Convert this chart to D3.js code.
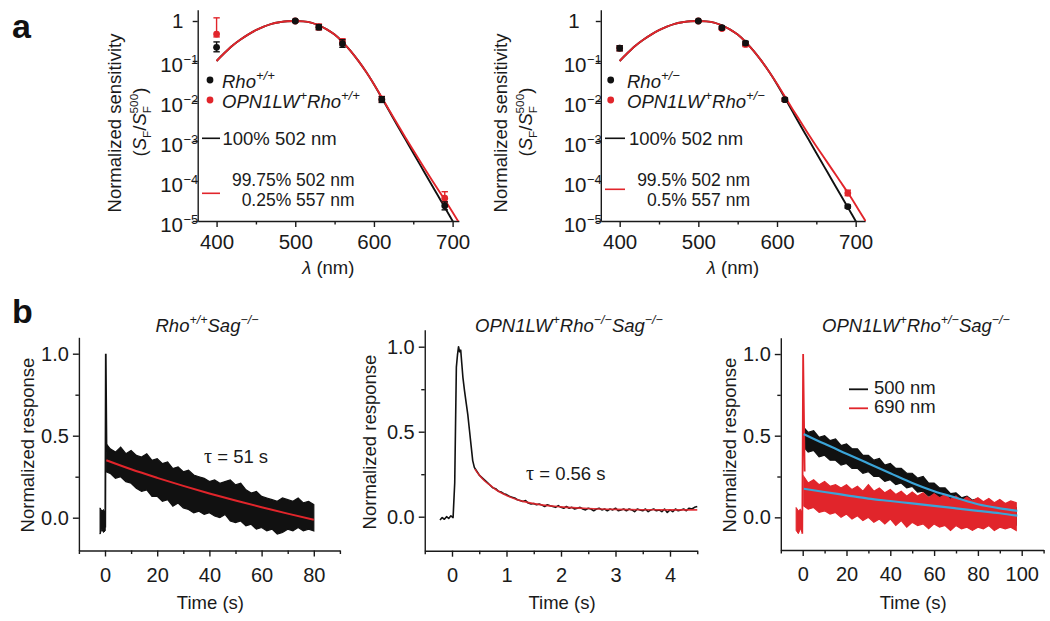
<!DOCTYPE html>
<html><head><meta charset="utf-8">
<script src="https://cdn.jsdelivr.net/npm/d3@7"></script>
<style>
body{margin:0;background:#fff;}
svg{font-family:"Liberation Sans",Arial,Helvetica,sans-serif;}
</style></head><body>
<svg id="c" width="1050" height="621"></svg>
<script>
// ---------------- DATA ----------------
// Panel a: spectral sensitivity (normalized S_F / S_F^500)
const sensWl = [400, 500, 530, 560, 610, 690];
const rhoWT      = [0.22, 1.0, 0.70, 0.27, 0.0108, 2.4e-5];
const rhoWTLo    = [0.17, 0.94, 0.61, 0.22, 0.0092, 1.9e-5];
const rhoWTHi    = [0.30, 1.06, 0.80, 0.34, 0.0128, 3.0e-5];
const opnWT      = [0.47, 1.0, 0.71, 0.30, 0.0112, 3.7e-5];
const opnWTLo    = [0.40, 0.95, 0.60, 0.25, 0.0095, 3.0e-5];
const opnWTHi    = [1.20, 1.05, 0.84, 0.36, 0.0130, 5.4e-5];
const rhoHet     = [0.21, 1.0, 0.68, 0.28, 0.0108, 2.3e-5];
const rhoHetLo   = [0.18, 0.97, 0.62, 0.25, 0.0098, 2.1e-5];
const rhoHetHi   = [0.24, 1.03, 0.74, 0.31, 0.0118, 2.5e-5];
const opnHet     = [0.21, 1.0, 0.65, 0.26, 0.0108, 5.0e-5];
const opnHetLo   = [0.18, 0.97, 0.60, 0.23, 0.0098, 4.3e-5];
const opnHetHi   = [0.24, 1.03, 0.71, 0.29, 0.0118, 5.9e-5];

// template fit curves
const fitWl = [400,410,420,430,440,450,460,470,480,490,500,510,520,530,540,550,560,570,580,590,600,610,620,630,640,650,660,670,680,690,700,710,720];
const fit502 = [0.1,0.158,0.240,0.339,0.457,0.589,0.724,0.851,0.933,0.989,1.0,0.977,0.912,0.776,0.617,0.457,0.302,0.182,0.102,0.0537,
  0.0263,0.0120,0.00537,0.00240,0.00110,5.0e-4,2.29e-4,1.05e-4,4.79e-5,2.19e-5,1.0e-5,4.57e-6,2.1e-6];
const fitMixWT = [0.1,0.158,0.240,0.339,0.457,0.589,0.724,0.851,0.933,0.989,1.0,0.977,0.912,0.776,0.617,0.457,0.302,0.182,0.102,0.0537,
  0.0263,0.0123,0.00562,0.00263,0.00123,5.89e-4,2.82e-4,1.38e-4,6.76e-5,3.39e-5,1.66e-5,7.94e-6,3.8e-6];
const fitMixHet = [0.1,0.158,0.240,0.339,0.457,0.589,0.724,0.851,0.933,0.989,1.0,0.977,0.912,0.776,0.617,0.457,0.302,0.182,0.102,0.0537,
  0.0269,0.0129,0.00617,0.00302,0.00148,7.41e-4,3.80e-4,1.95e-4,1.0e-4,5.13e-5,2.51e-5,1.20e-5,5.8e-6];

const aXTicks = [400, 500, 600, 700];
const aXMinor = [450, 550, 650];
const aYTicks = [1, 0.1, 0.01, 1e-3, 1e-4, 1e-5];
const aYTickBase = ["1", "10", "10", "10", "10", "10"];
const aYTickSup  = ["", "\u22121", "\u22122", "\u22123", "\u22124", "\u22125"];

// Panel b (left): Rho+/+ Sag-/- , noisy trace envelope
const bLPreT = [-1.9, -1.2, -0.6, 0.1];
const bLPreHi = [0.06, 0.04, 0.05, 0.03];
const bLPreLo = [-0.10, -0.07, -0.09, -0.08];
const bLSpikeT = [0.1, 0.3, 0.6];
const bLSpikeV = [-0.06, 1.0, 0.40];
const bLT = [0.5,2,4,6,8,10,12,14,16,18,20,22,24,26,28,30,32,34,36,38,40,42,44,46,48,50,52,54,56,58,60,62,64,66,68,70,72,74,76,78,80];
const bLHi = [.45,.42,.40,.43,.39,.41,.38,.37,.39,.35,.36,.33,.34,.30,.31,.28,.29,.26,.25,.24,.22,.23,.21,.22,.23,.20,.21,.17,.15,.16,.13,.12,.11,.10,.12,.11,.10,.12,.09,.10,.08];
const bLLo = [.28,.27,.24,.25,.22,.21,.18,.16,.17,.13,.13,.10,.11,.07,.09,.06,.05,.03,.04,.02,.03,.01,.00,.02,-.02,-.03,-.02,-.05,-.04,-.07,-.06,-.08,-.07,-.10,-.09,-.07,-.08,-.06,-.08,-.07,-.08];
const bLFitT = [0.5,10,20,30,40,50,60,70,80];
const bLFitV = [.35,.295,.243,.194,.148,.105,.064,.025,-.012];

// Panel b (middle): OPN1LW+ Rho-/- Sag-/-
const bMT = [-0.22,-0.18,-0.14,-0.10,-0.06,-0.02,0.02,0.05,0.08,0.10,0.12,0.14,0.16,0.18,0.20,0.23,0.26,0.29,0.32,0.35,0.38,0.41,0.44,0.47,0.50,
  0.55,0.60,0.65,0.70,0.75,0.80,0.85,0.90,0.95,1.00,1.05,1.10,1.15,1.20,1.25,1.30,1.35,1.40,1.45,1.50,1.55,1.60,1.65,1.70,1.75,1.80,1.85,1.90,1.95,2.00,
  2.05,2.10,2.15,2.20,2.25,2.30,2.35,2.40,2.45,2.50,2.55,2.60,2.65,2.70,2.75,2.80,2.85,2.90,2.95,3.00,3.05,3.10,3.15,3.20,3.25,3.30,3.35,3.40,3.45,3.50,
  3.55,3.60,3.65,3.70,3.75,3.80,3.85,3.90,3.95,4.00,4.05,4.10,4.15,4.20,4.25,4.30,4.35,4.40,4.45,4.50];
const bMV = [-0.02,-0.005,-0.015,0.0,-0.01,0.005,-0.005,0.2,0.88,0.95,1.0,0.97,0.98,0.9,0.82,0.74,0.67,0.6,0.51,0.42,0.33,0.29,0.275,0.26,0.245,
  .23,.215,.20,.185,.17,.165,.15,.145,.135,.13,.12,.115,.11,.10,.095,.09,.095,.08,.075,.078,.07,.075,.068,.06,.07,.065,.06,.055,.065,.055,
  .05,.06,.05,.055,.045,.05,.055,.045,.04,.05,.045,.035,.045,.05,.04,.045,.035,.045,.04,.05,.035,.04,.045,.035,.045,.04,.03,.045,.04,.035,
  .045,.03,.04,.045,.035,.04,.03,.045,.025,.04,.03,.045,.035,.04,.045,.035,.05,.045,.055,.06];
const bMFitT = [0.42,0.5,0.6,0.7,0.8,1.0,1.2,1.5,2.0,2.5,3.0,3.5,4.0,4.5];
const bMFitV = [.28,.245,.21,.185,.16,.125,.10,.077,.058,.048,.043,.041,.04,.04];

// Panel b (right): OPN1LW+ Rho+/- Sag-/- , 500 nm (black) and 690 nm (red)
const bRT = [0.5,2.5,5,7.5,10,12.5,15,17.5,20,22.5,25,27.5,30,32.5,35,37.5,40,42.5,45,47.5,50,52.5,55,57.5,60,62.5,65,67.5,70,72.5,75,77.5,80,82.5,85,87.5,90,92.5,95,97.5];
const b500Hi = [.55,.52,.53,.49,.50,.47,.48,.44,.45,.42,.42,.38,.38,.35,.36,.32,.33,.30,.30,.27,.27,.24,.25,.21,.21,.18,.18,.145,.15,.12,.13,.105,.115,.09,.10,.08,.09,.07,.08,.06];
const b500Lo = [.43,.40,.41,.37,.38,.35,.35,.32,.33,.30,.30,.27,.28,.25,.25,.22,.23,.20,.21,.18,.19,.155,.16,.13,.135,.10,.105,.07,.075,.045,.055,.025,.035,.005,.015,-.015,-.005,-.03,-.02,-.045];
const b690Hi = [.25,.21,.23,.20,.22,.19,.20,.18,.20,.17,.19,.16,.20,.16,.18,.15,.17,.14,.16,.13,.155,.13,.15,.12,.145,.12,.14,.11,.13,.10,.125,.10,.12,.095,.115,.09,.11,.085,.10,.09];
const b690Lo = [.07,.05,.06,.03,.04,.02,.03,.00,.02,-.01,.01,-.02,.00,-.03,-.01,-.04,-.01,-.05,-.02,-.06,-.03,-.05,-.04,-.07,-.04,-.06,-.05,-.08,-.05,-.07,-.06,-.08,-.06,-.07,-.05,-.08,-.06,-.07,-.06,-.08];
const b690PreT = [-3, -2, -1, -0.3];
const b690PreHi = [0.06, 0.04, 0.05, 0.03];
const b690PreLo = [-0.08, -0.10, -0.07, -0.09];
const b690SpikeT = [-0.2, 0.2, 0.9];
const b690SpikeV = [-0.10, 1.0, 0.28];
const bRFitT = [0.5,10,20,30,40,50,60,70,80,90,98];
const b500FitV = [.51,.45,.39,.33,.27,.21,.16,.12,.08,.055,.04];
const b690FitV = [.175,.155,.135,.115,.10,.085,.07,.055,.04,.025,.01];

const bYMajor = [0, 0.5, 1.0];
const bYMinor = [0.25, 0.75];

// ---------------- DRAWING ----------------
const svg = d3.select("#c");
svg.append("rect").attr("width", 1050).attr("height", 621).attr("fill", "#fff");
const AX = "#1a1a1a", RED = "#e1252b", BLUE = "#3ba4d8", BLK = "#111";
const defs = svg.append("defs");
const TFA = 20.5, TFB = 20, LF = 18.5;

function styleAxis(sel, fs) {
  sel.attr("font-family", null).attr("font-size", fs);
  sel.selectAll("path.domain").attr("stroke", AX).attr("stroke-width", 1.4);
  sel.selectAll(".tick line").attr("stroke", AX).attr("stroke-width", 1.4);
  sel.selectAll(".tick text").attr("fill", AX);
}

// rich text: parts = [{t, i, s:'sup'|'sub', dx}]
function rich(sel, x, y, parts, o = {}) {
  const fs = o.fs || LF;
  const t = sel.append("text").attr("x", x).attr("y", y).attr("font-size", fs)
    .attr("text-anchor", o.anchor || "start").attr("fill", o.fill || AX);
  if (o.rotate) t.attr("transform", `rotate(-90,${x},${y})`);
  let cur = 0;
  parts.forEach(p => {
    const ts = t.append("tspan").text(p.t);
    const target = p.s === "sup" ? -(o.supUp || fs * 0.42) : p.s === "sub" ? fs * 0.28 : 0;
    if (target - cur !== 0) ts.attr("dy", target - cur);
    cur = target;
    if (p.s) ts.attr("font-size", o.sfs || fs * 0.64);
    if (p.i) ts.attr("font-style", "italic");
    if (p.dx) ts.attr("dx", p.dx);
  });
  return t;
}

// ---------- Panel a ----------
function panelA(o) {
  const g = svg.append("g");
  const x = d3.scaleLinear().domain(o.xDom).range(o.xRange);
  const y = d3.scaleLog().domain([1e-5, Math.pow(10, 0.28)]).range([221, 9.8]);
  defs.append("clipPath").attr("id", "clip" + o.id).append("rect")
    .attr("x", o.xRange[0]).attr("y", 0).attr("width", o.xRange[1] - o.xRange[0] + 1).attr("height", 221);

  g.append("g").attr("transform", "translate(0,221)")
    .call(d3.axisBottom(x).tickValues(aXTicks).tickSize(6).tickSizeOuter(0).tickPadding(7).tickFormat(d3.format("d")))
    .call(s => styleAxis(s, TFA));
  g.append("g").attr("transform", "translate(0,221)")
    .call(d3.axisBottom(x).tickValues(aXMinor).tickSize(3.5).tickFormat(""))
    .call(s => { s.select(".domain").remove(); styleAxis(s, TFA); });
  g.append("g").attr("transform", `translate(${o.xRange[0]},0)`)
    .call(d3.axisLeft(y).tickValues(aYTicks).tickSize(5).tickSizeOuter(0).tickFormat(""))
    .call(s => styleAxis(s, TFA));

  aYTicks.forEach((v, i) => {
    if (aYTickSup[i] === "") {
      g.append("text").attr("x", o.oneX).attr("y", y(v) + 7).attr("text-anchor", o.oneAnchor)
        .attr("font-size", TFA).attr("fill", AX).text(aYTickBase[i]);
    } else {
      g.append("text").attr("x", o.tenX).attr("y", y(v) + 10.8).attr("text-anchor", "end")
        .attr("font-size", TFA).attr("fill", AX).text(aYTickBase[i]);
      g.append("text").attr("x", o.tenX + 0.5).attr("y", y(v) + 2.5).attr("text-anchor", "start")
        .attr("font-size", 13).attr("fill", AX).text(aYTickSup[i]);
    }
  });

  // axis titles
  g.append("text").attr("x", o.lab1X).attr("y", 123).attr("transform", `rotate(-90,${o.lab1X},123)`)
    .attr("text-anchor", "middle").attr("font-size", LF).attr("fill", AX).text("Normalized sensitivity");
  rich(g, o.lab2X, 122, [{t: "("}, {t: "S", i: 1}, {t: "F", s: "sub"}, {t: "/"}, {t: "S", i: 1}, {t: "F", s: "sub"},
    {t: "500", s: "sup", dx: -7.6}, {t: ")"}], {rotate: 1, anchor: "middle", supUp: 8});
  rich(g, (o.xRange[0] + o.xRange[1]) / 2, 274, [{t: "\u03bb", i: 1}, {t: " (nm)"}], {anchor: "middle"});

  // curves
  const line = d3.line().x((d, i) => x(fitWl[i])).y(d => y(d)).curve(d3.curveMonotoneX);
  const cg = g.append("g").attr("clip-path", `url(#clip${o.id})`);
  cg.append("path").attr("d", line(fit502)).attr("fill", "none").attr("stroke", BLK).attr("stroke-width", 1.9);
  cg.append("path").attr("d", line(o.redFit)).attr("fill", "none").attr("stroke", RED).attr("stroke-width", 1.9);

  // points with error bars
  function pts(vals, lo, hi, col) {
    const pg = g.append("g");
    sensWl.forEach((w, i) => {
      const cx = x(w);
      pg.append("line").attr("x1", cx).attr("x2", cx).attr("y1", y(lo[i])).attr("y2", y(hi[i])).attr("stroke", col).attr("stroke-width", 1.4);
      [lo[i], hi[i]].forEach(v => pg.append("line").attr("x1", cx - 3.2).attr("x2", cx + 3.2).attr("y1", y(v)).attr("y2", y(v)).attr("stroke", col).attr("stroke-width", 1.4));
      pg.append("circle").attr("cx", cx).attr("cy", y(vals[i])).attr("r", 3.4).attr("fill", col);
    });
  }
  pts(o.red, o.redLo, o.redHi, RED);
  pts(o.blk, o.blkLo, o.blkHi, BLK);

  // legend
  const L = o.leg;
  g.append("circle").attr("cx", L.dotX).attr("cy", 80).attr("r", 3.4).attr("fill", BLK);
  rich(g, L.txtX, 88, [{t: "Rho", i: 1}, {t: o.geno, s: "sup", i: 1}], {sfs: 13, supUp: 8});
  g.append("circle").attr("cx", L.dotX).attr("cy", 100).attr("r", 3.4).attr("fill", RED);
  rich(g, L.txtX, 108, [{t: "OPN1LW", i: 1}, {t: "+", s: "sup", i: 1}, {t: "Rho", i: 1}, {t: o.geno, s: "sup", i: 1}], {sfs: 13, supUp: 8});
  g.append("line").attr("x1", L.lineX[0]).attr("x2", L.lineX[1]).attr("y1", 138.3).attr("y2", 138.3).attr("stroke", BLK).attr("stroke-width", 1.6);
  g.append("text").attr("x", L.line1X).attr("y", 145).attr("font-size", LF).attr("fill", AX).text("100% 502 nm");
  g.append("line").attr("x1", L.lineX[0]).attr("x2", L.lineX[1]).attr("y1", L.redY).attr("y2", L.redY).attr("stroke", RED).attr("stroke-width", 1.6);
  g.append("text").attr("x", L.rightX).attr("y", 186).attr("text-anchor", "end").attr("font-size", 17.5).attr("fill", AX).text(o.mix1);
  g.append("text").attr("x", L.rightX).attr("y", 206).attr("text-anchor", "end").attr("font-size", 17.5).attr("fill", AX).text(o.mix2);
}

panelA({id: "L", xDom: [376, 708], xRange: [197.7, 458.9], oneX: 183.5, oneAnchor: "end", tenX: 183,
  lab1X: 121, lab2X: 146, redFit: fitMixWT,
  red: opnWT, redLo: opnWTLo, redHi: opnWTHi, blk: rhoWT, blkLo: rhoWTLo, blkHi: rhoWTHi,
  geno: "+/+", mix1: "99.75% 502 nm", mix2: "0.25% 557 nm",
  leg: {dotX: 210, txtX: 222, lineX: [202, 220], line1X: 222.5, redY: 193.3, rightX: 354.5}});
panelA({id: "R", xDom: [376, 712], xRange: [600.8, 865.1], oneX: 574, oneAnchor: "middle", tenX: 586.5,
  lab1X: 507, lab2X: 532, redFit: fitMixHet,
  red: opnHet, redLo: opnHetLo, redHi: opnHetHi, blk: rhoHet, blkLo: rhoHetLo, blkHi: rhoHetHi,
  geno: "+/\u2212", mix1: "99.5% 502 nm", mix2: "0.5% 557 nm",
  leg: {dotX: 610.7, txtX: 627, lineX: [605, 625], line1X: 629, redY: 189.3, rightX: 750}});

// panel letters
svg.append("text").attr("x", 12).attr("y", 38).attr("font-size", 34).attr("font-weight", "bold").attr("fill", "#111").text("a");
svg.append("text").attr("x", 12).attr("y", 323).attr("font-size", 34).attr("font-weight", "bold").attr("fill", "#111").text("b");

// ---------- Panel b ----------
function panelB(o) {
  const g = svg.append("g");
  const x = d3.scaleLinear().domain(o.xDom).range(o.xRange);
  const y = d3.scaleLinear().domain([-0.2, 1.1]).range(o.yRange);
  const y0 = o.yRange[0];
  g.append("g").attr("transform", `translate(0,${y0})`)
    .call(d3.axisBottom(x).tickValues(o.xMajor).tickSize(6).tickSizeOuter(0).tickPadding(11).tickFormat(d3.format("d")))
    .call(s => styleAxis(s, TFB));
  g.append("g").attr("transform", `translate(0,${y0})`)
    .call(d3.axisBottom(x).tickValues(o.xMinor).tickSize(3.5).tickFormat(""))
    .call(s => { s.select(".domain").remove(); styleAxis(s, TFB); });
  g.append("g").attr("transform", `translate(${o.xRange[0]},0)`)
    .call(d3.axisLeft(y).tickValues(bYMajor).tickSize(6).tickSizeOuter(0).tickPadding(4).tickFormat(d3.format(".1f")))
    .call(s => styleAxis(s, TFB));
  g.append("g").attr("transform", `translate(${o.xRange[0]},0)`)
    .call(d3.axisLeft(y).tickValues(bYMinor).tickSize(3.5).tickFormat(""))
    .call(s => { s.select(".domain").remove(); styleAxis(s, TFB); });

  g.append("text").attr("x", o.ylabX).attr("y", o.ylabY).attr("transform", `rotate(-90,${o.ylabX},${o.ylabY})`)
    .attr("text-anchor", "middle").attr("font-size", LF).attr("fill", AX).text("Normalized response");
  g.append("text").attr("x", (o.xRange[0] + o.xRange[1]) / 2 + 1).attr("y", 609).attr("text-anchor", "middle")
    .attr("font-size", LF).attr("fill", AX).text("Time (s)");
  rich(g, o.titleX, 332, o.title, {anchor: "middle", sfs: 12.5, supUp: 8});
  return {g, x, y};
}

const sup = (t) => ({t, s: "sup", i: 1});
const it = (t) => ({t, i: 1});

// left
(function () {
  const P = panelB({xDom: [-10, 90], xRange: [78.9, 339.9], yRange: [550.5, 337.3],
    xMajor: [0, 20, 40, 60, 80], xMinor: [-10, 10, 30, 50, 70, 90], ylabX: 34, ylabY: 445,
    titleX: 207, title: [it("Rho"), sup("+/+"), it("Sag"), sup("\u2212/\u2212")]});
  const {g, x, y} = P;
  const area = (T) => d3.area().x((d, i) => x(T[i])).y0(d => y(d[0])).y1(d => y(d[1]));
  g.append("path").attr("d", area(bLPreT)(bLPreLo.map((v, i) => [v, bLPreHi[i]]))).attr("fill", BLK).attr("stroke", BLK).attr("stroke-width", 1);
  g.append("path").attr("d", d3.line().x((d, i) => x(bLSpikeT[i])).y(d => y(d))(bLSpikeV)).attr("fill", "none").attr("stroke", BLK).attr("stroke-width", 1.8);
  g.append("path").attr("d", area(bLT)(bLLo.map((v, i) => [v, bLHi[i]]))).attr("fill", BLK).attr("stroke", BLK).attr("stroke-width", 1.2);
  g.append("path").attr("d", d3.line().x((d, i) => x(bLFitT[i])).y(d => y(d)).curve(d3.curveMonotoneX)(bLFitV))
    .attr("fill", "none").attr("stroke", RED).attr("stroke-width", 2);
  const tt = g.append("text").attr("x", 204).attr("y", 463).attr("font-size", LF).attr("fill", AX);
  tt.append("tspan").attr("font-family", "Liberation Serif, serif").attr("font-size", 20).text("\u03c4");
  tt.append("tspan").text(" = 51 s");
})();

// middle
(function () {
  const P = panelB({xDom: [-0.5, 4.5], xRange: [424.75, 697.25], yRange: [550.7, 329.7],
    xMajor: [0, 1, 2, 3, 4], xMinor: [-0.5, 0.5, 1.5, 2.5, 3.5, 4.5], ylabX: 376, ylabY: 442,
    titleX: 569, title: [it("OPN1LW"), sup("+"), it("Rho"), sup("\u2212/\u2212"), it("Sag"), sup("\u2212/\u2212")]});
  const {g, x, y} = P;
  g.append("path").attr("d", d3.line().x((d, i) => x(bMT[i])).y(d => y(d))(bMV))
    .attr("fill", "none").attr("stroke", BLK).attr("stroke-width", 1.6).attr("stroke-linejoin", "round");
  g.append("path").attr("d", d3.line().x((d, i) => x(bMFitT[i])).y(d => y(d)).curve(d3.curveMonotoneX)(bMFitV))
    .attr("fill", "none").attr("stroke", RED).attr("stroke-width", 1.6).attr("opacity", 0.9);
  const tt = g.append("text").attr("x", 526).attr("y", 480).attr("font-size", LF).attr("fill", AX);
  tt.append("tspan").attr("font-family", "Liberation Serif, serif").attr("font-size", 20).text("\u03c4");
  tt.append("tspan").text(" = 0.56 s");
})();

// right
(function () {
  const P = panelB({xDom: [-10, 110], xRange: [780.8, 1043.6], yRange: [550, 337.7],
    xMajor: [0, 20, 40, 60, 80, 100], xMinor: [-10, 10, 30, 50, 70, 90, 110], ylabX: 736, ylabY: 445,
    titleX: 916, title: [it("OPN1LW"), sup("+"), it("Rho"), sup("+/\u2212"), it("Sag"), sup("\u2212/\u2212")]});
  const {g, x, y} = P;
  const area = (T) => d3.area().x((d, i) => x(T[i])).y0(d => y(d[0])).y1(d => y(d[1]));
  g.append("path").attr("d", area(bRT)(b500Lo.map((v, i) => [v, b500Hi[i]]))).attr("fill", BLK).attr("stroke", BLK).attr("stroke-width", 1.2);
  g.append("path").attr("d", area(bRT)(b690Lo.map((v, i) => [v, b690Hi[i]]))).attr("fill", RED).attr("stroke", RED).attr("stroke-width", 1.2);
  g.append("path").attr("d", area(b690PreT)(b690PreLo.map((v, i) => [v, b690PreHi[i]]))).attr("fill", RED).attr("stroke", RED).attr("stroke-width", 1);
  g.append("path").attr("d", d3.line().x((d, i) => x(b690SpikeT[i])).y(d => y(d))(b690SpikeV)).attr("fill", "none").attr("stroke", RED).attr("stroke-width", 1.8);
  const fl = d3.line().x((d, i) => x(bRFitT[i])).y(d => y(d)).curve(d3.curveMonotoneX);
  g.append("path").attr("d", fl(b500FitV)).attr("fill", "none").attr("stroke", BLUE).attr("stroke-width", 2.2);
  g.append("path").attr("d", fl(b690FitV)).attr("fill", "none").attr("stroke", BLUE).attr("stroke-width", 2.2);
  // legend
  g.append("line").attr("x1", 849).attr("x2", 868).attr("y1", 389.3).attr("y2", 389.3).attr("stroke", BLK).attr("stroke-width", 1.8);
  g.append("text").attr("x", 874).attr("y", 393.5).attr("font-size", LF).attr("fill", AX).text("500 nm");
  g.append("line").attr("x1", 849).attr("x2", 868).attr("y1", 408.3).attr("y2", 408.3).attr("stroke", RED).attr("stroke-width", 1.8);
  g.append("text").attr("x", 874).attr("y", 413).attr("font-size", LF).attr("fill", AX).text("690 nm");
})();
</script>
</body></html>
